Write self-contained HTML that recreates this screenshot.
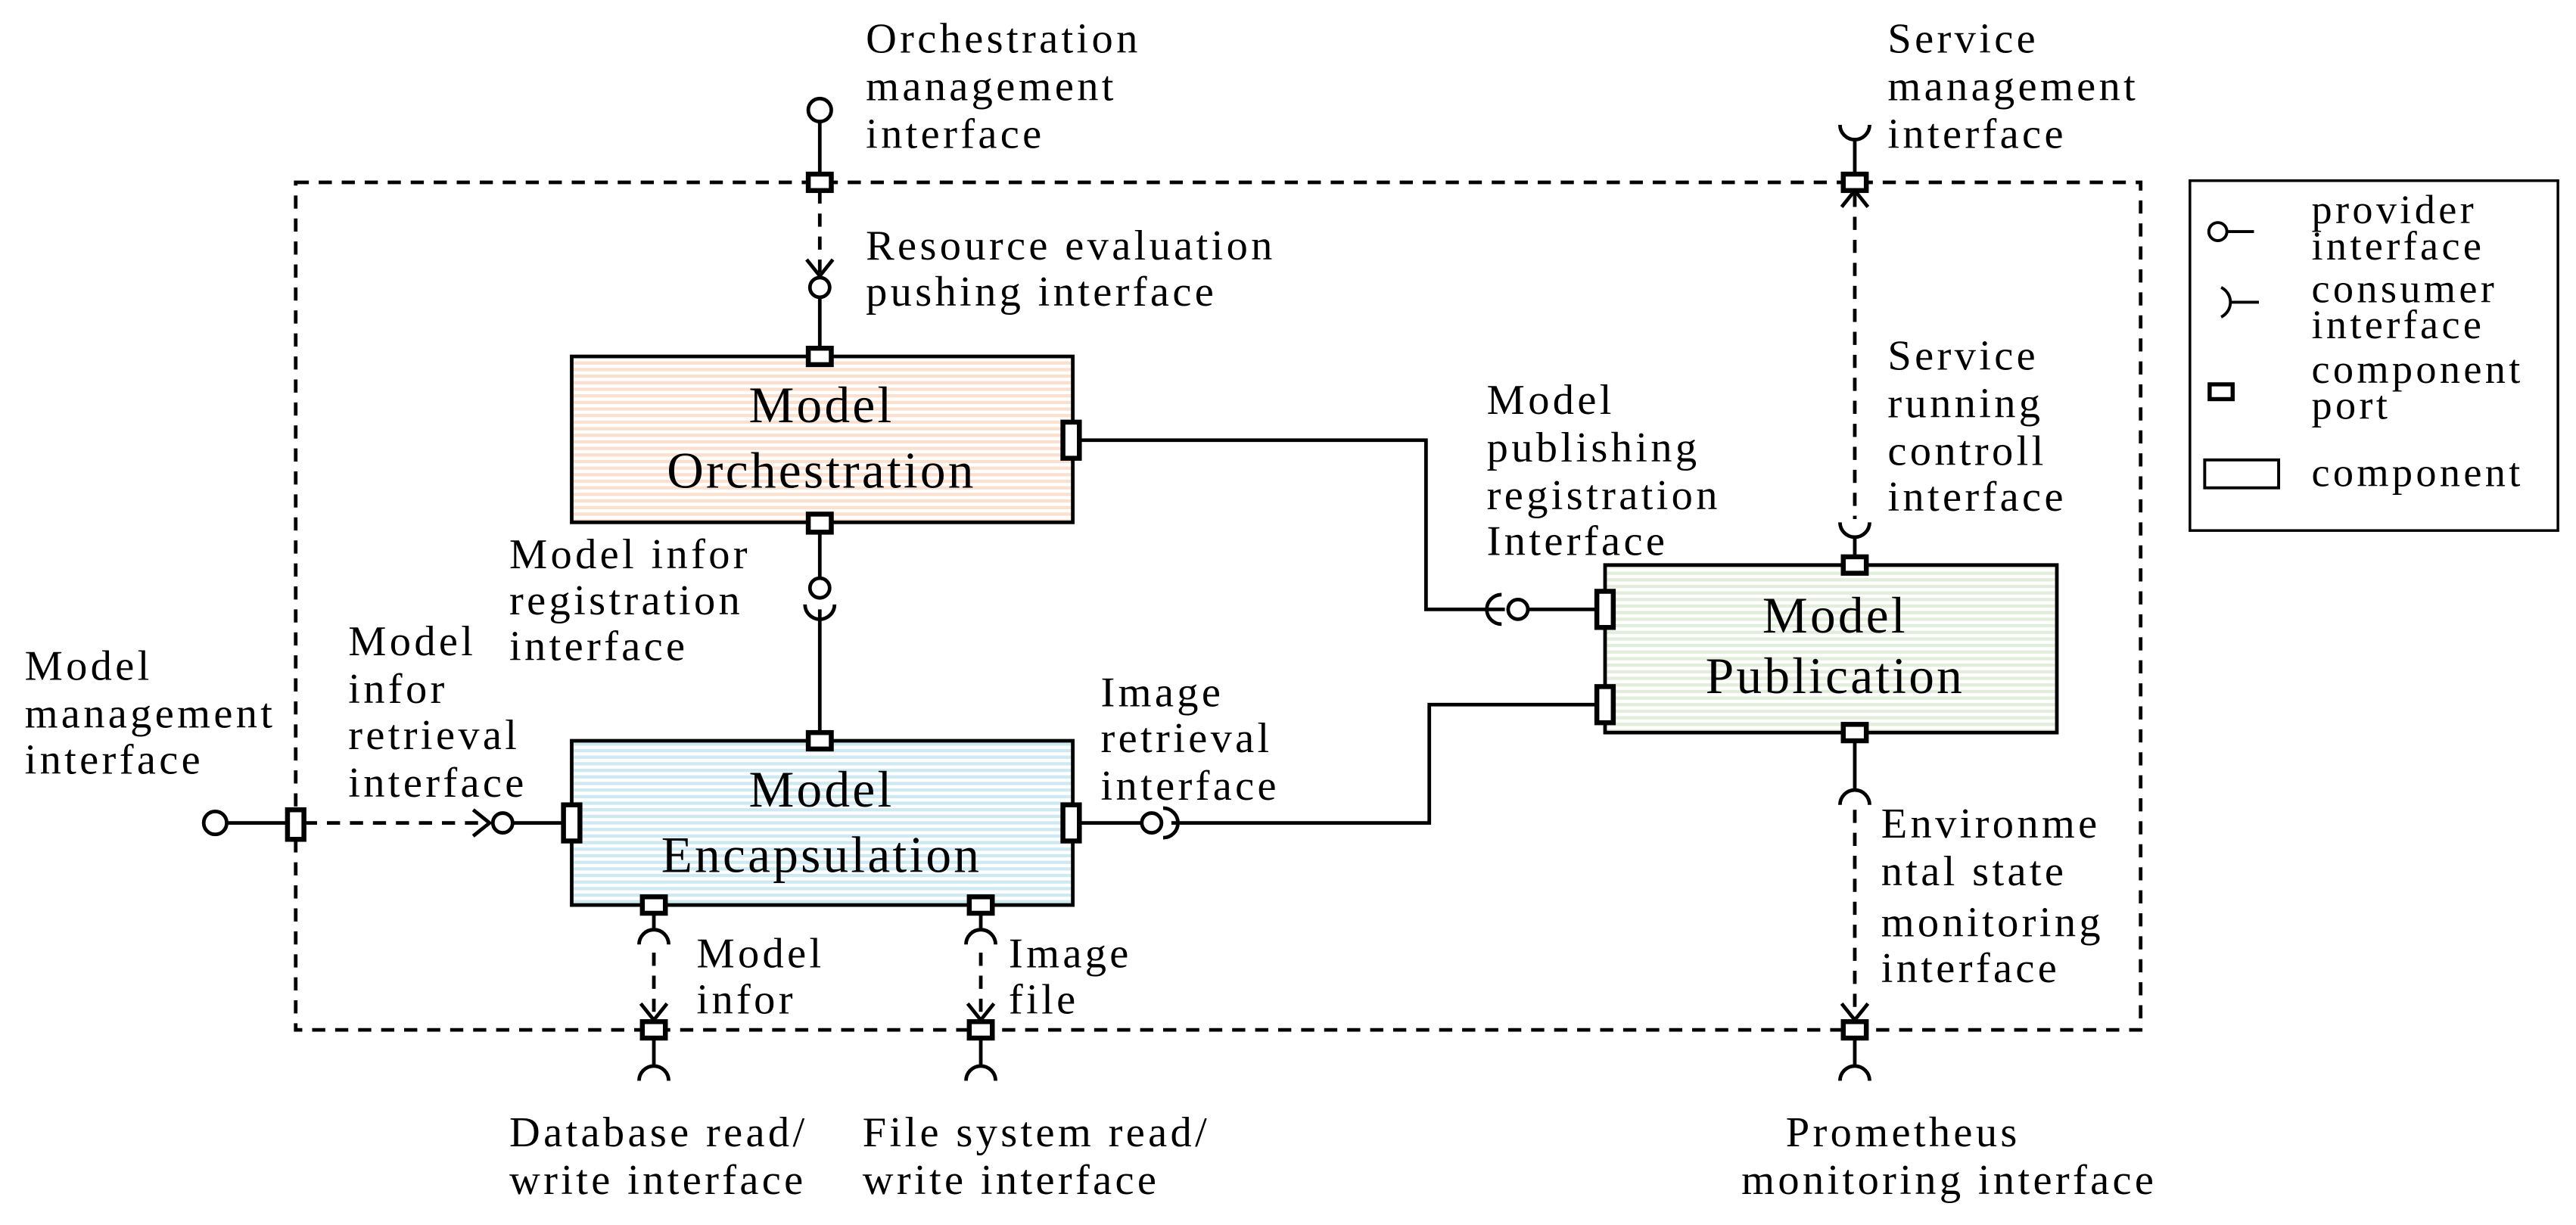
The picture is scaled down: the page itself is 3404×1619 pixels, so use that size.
<!DOCTYPE html>
<html><head><meta charset="utf-8"><style>
html,body{margin:0;padding:0;background:#fff;}
svg{display:block;}
text{font-family:"Liberation Serif",serif;fill:#000;}
</style></head><body>
<svg width="3404" height="1619" viewBox="0 0 1568 745.8" preserveAspectRatio="none" xmlns="http://www.w3.org/2000/svg">
<defs>
<pattern id="po" width="4" height="4" patternUnits="userSpaceOnUse"><rect width="4" height="4" fill="#fff"/><rect width="4" height="2" fill="#fbe0cf"/></pattern>
<pattern id="pb" width="4" height="4" patternUnits="userSpaceOnUse"><rect width="4" height="4" fill="#fff"/><rect width="4" height="2" fill="#cfe9f2"/></pattern>
<pattern id="pg" width="4" height="4" patternUnits="userSpaceOnUse"><rect width="4" height="4" fill="#fff"/><rect width="4" height="2" fill="#e2eedb"/></pattern>
</defs>
<g stroke="#000" stroke-width="2.2" fill="none">
<rect x="180" y="111" width="1123" height="516" stroke-dasharray="8,6"/>
<rect x="1333" y="110" width="224" height="213" stroke-width="1.6"/>
<rect x="348" y="217" width="305" height="101" fill="url(#po)"/>
<rect x="348" y="451" width="305" height="100" fill="url(#pb)"/>
<rect x="977" y="344" width="275" height="102" fill="url(#pg)"/>

<path d="M499 74V106 M499 180V212 M499 323V351 M499 371V446"/>
<circle cx="499" cy="67" r="7"/>
<circle cx="499" cy="175" r="6"/>
<circle cx="499" cy="358" r="6"/>
<path d="M490 368 A9 9 0 0 0 508 368"/>
<path d="M657 268H868V371H916 M930 371H972"/>
<circle cx="924" cy="371" r="6"/>
<path d="M914 362 A9 9 0 0 0 914 380"/>
<path d="M657 501H695 M713 501H870V429H972"/>
<circle cx="701" cy="501" r="6"/>
<path d="M708 492 A9 9 0 0 1 708 510"/>
<path d="M138 501H175 M312 501H342"/>
<circle cx="131" cy="501" r="7"/>
<circle cx="306" cy="501" r="6"/>
<path d="M1120 76 A9 9 0 0 0 1138 76 M1129 85V106"/>
<path d="M1120 318 A9 9 0 0 0 1138 318 M1129 327V339"/>
<path d="M1129 450V480 M1120 490 A9 9 0 0 1 1138 490"/>
<path d="M1129 632V648 M1120 658 A9 9 0 0 1 1138 658"/>
<path d="M398 556V565 M389 575 A9 9 0 0 1 407 575 M398 632V648 M389 658 A9 9 0 0 1 407 658"/>
<path d="M597 556V565 M588 575 A9 9 0 0 1 606 575 M597 632V648 M588 658 A9 9 0 0 1 606 658"/>

<g stroke-dasharray="8,6">
<path d="M499 116V168"/>
<path d="M185 501H298"/>
<path d="M1129 118V316"/>
<path d="M1129 493V621"/>
<path d="M398 580V621"/>
<path d="M597 580V621"/>
</g>
<path d="M491 158L499 168L507 158"/>
<path d="M288 493L298 501L288 509"/>
<path d="M1121 126L1129 116L1137 126"/>
<path d="M1121 611L1129 621L1137 611"/>
<path d="M390 611L398 621L406 611"/>
<path d="M589 611L597 621L605 611"/>

<g fill="#fff" stroke-width="3">
<rect x="492" y="106" width="14" height="10"/>
<rect x="1122" y="106" width="14" height="10"/>
<rect x="175" y="493" width="10" height="18"/>
<rect x="391" y="622" width="14" height="10"/>
<rect x="590" y="622" width="14" height="10"/>
<rect x="1122" y="622" width="14" height="10"/>
<rect x="492" y="212" width="14" height="10"/>
<rect x="492" y="313" width="14" height="11"/>
<rect x="647" y="257" width="10" height="22"/>
<rect x="492" y="446" width="14" height="10"/>
<rect x="343" y="490" width="10" height="22"/>
<rect x="647" y="490" width="10" height="22"/>
<rect x="391" y="546" width="14" height="10"/>
<rect x="590" y="546" width="14" height="10"/>
<rect x="1122" y="339" width="14" height="10"/>
<rect x="1122" y="441" width="14" height="10"/>
<rect x="972" y="360" width="10" height="22"/>
<rect x="972" y="418" width="10" height="22"/>
</g>
<circle cx="1350" cy="141" r="5.5" stroke-width="1.8"/>
<path d="M1356 141H1372" stroke-width="1.8"/>
<path d="M1352 175 A10 10 0 0 1 1352 193 M1358 184H1375" stroke-width="1.8"/>
<rect x="1345" y="234" width="14" height="9" stroke-width="2.5" fill="#fff"/>
<rect x="1342" y="280" width="45" height="17" stroke-width="1.8"/>
</g>

<g font-size="26" letter-spacing="2">
<text x="527" y="32">Orchestration</text>
<text x="527" y="61">management</text>
<text x="527" y="90">interface</text>
<text x="527" y="158">Resource evaluation</text>
<text x="527" y="186">pushing interface</text>
<text x="310" y="346">Model infor</text>
<text x="310" y="374">registration</text>
<text x="310" y="402">interface</text>
<text x="15" y="414">Model</text>
<text x="15" y="443">management</text>
<text x="15" y="471">interface</text>
<text x="212" y="399">Model</text>
<text x="212" y="428">infor</text>
<text x="212" y="456">retrieval</text>
<text x="212" y="485">interface</text>
<text x="670" y="430">Image</text>
<text x="670" y="458">retrieval</text>
<text x="670" y="487">interface</text>
<text x="905" y="252">Model</text>
<text x="905" y="281">publishing</text>
<text x="905" y="310">registration</text>
<text x="905" y="338">Interface</text>
<text x="1149" y="32">Service</text>
<text x="1149" y="61">management</text>
<text x="1149" y="90">interface</text>
<text x="1149" y="225">Service</text>
<text x="1149" y="254">running</text>
<text x="1149" y="283">controll</text>
<text x="1149" y="311">interface</text>
<text x="1145" y="510">Environme</text>
<text x="1145" y="539">ntal state</text>
<text x="1145" y="570">monitoring</text>
<text x="1145" y="598">interface</text>
<text x="424" y="589">Model</text>
<text x="424" y="617">infor</text>
<text x="614" y="589">Image</text>
<text x="614" y="617">file</text>
<text x="310" y="698">Database read/</text>
<text x="310" y="727">write interface</text>
<text x="525" y="698">File system read/</text>
<text x="525" y="727">write interface</text>
<text x="1087" y="698">Prometheus</text>
<text x="1060" y="727">monitoring interface</text>
</g>
<g font-size="25" letter-spacing="2">
<text x="1407" y="136">provider</text>
<text x="1407" y="158">interface</text>
<text x="1407" y="184">consumer</text>
<text x="1407" y="206">interface</text>
<text x="1407" y="233">component</text>
<text x="1407" y="255">port</text>
<text x="1407" y="296">component</text>
</g>
<g font-size="31" letter-spacing="1.5" text-anchor="middle">
<text x="500" y="257">Model</text>
<text x="500" y="297">Orchestration</text>
<text x="500" y="491">Model</text>
<text x="500" y="531">Encapsulation</text>
<text x="1117" y="385">Model</text>
<text x="1117" y="422">Publication</text>
</g>
</svg>
</body></html>
